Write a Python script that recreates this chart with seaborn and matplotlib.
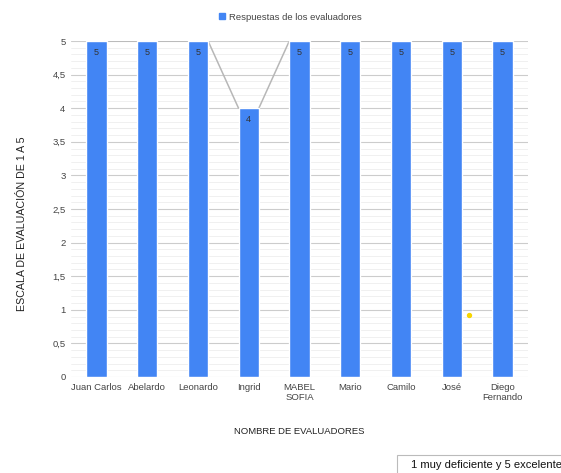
import matplotlib
import matplotlib.pyplot as plt
import pandas as pd
import seaborn as sns
from matplotlib.patches import Patch, Rectangle
from matplotlib.ticker import MultipleLocator, FuncFormatter

matplotlib.use("Agg")

evaluadores = ["Juan Carlos", "Abelardo", "Leonardo", "Ingrid", "MABEL\nSOFIA",
               "Mario", "Camilo", "José", "Diego\nFernando"]
respuestas = [5, 5, 5, 4, 5, 5, 5, 5, 5]
serie = "Respuestas de los evaluadores"

df = pd.DataFrame({"evaluador": evaluadores, "valor": respuestas, "serie": serie})

sns.set_theme(style="white")
plt.rcParams["font.family"] = ["Liberation Sans", "DejaVu Sans"]

BLUE = "#4285F4"
fig = plt.figure(figsize=(5.61, 4.73), dpi=100)
ax = fig.add_axes([0.1266, 0.203, 0.8144, 0.7103])

sns.barplot(data=df, x="evaluador", y="valor", hue="serie", palette=[BLUE],
            width=0.4, saturation=1, legend=False, ax=ax, zorder=3)

# connector line between bar tops
bars = sorted(ax.patches, key=lambda p: p.get_x())
for a, b in zip(bars[:-1], bars[1:]):
    ax.plot([a.get_x() + a.get_width(), b.get_x()],
            [a.get_height(), b.get_height()],
            color="#b7b7b7", lw=1.1, zorder=2)

for p in bars:
    ax.text(p.get_x() + p.get_width() / 2, p.get_height() - 0.1,
            f"{p.get_height():g}", ha="center", va="top",
            fontsize=6.5, color="#333333", zorder=4)

ax.set_xlim(-0.5, len(evaluadores) - 0.5)
ax.set_ylim(0, 5)
ax.yaxis.set_major_locator(MultipleLocator(0.5))
ax.yaxis.set_minor_locator(MultipleLocator(0.1))
ax.yaxis.set_major_formatter(FuncFormatter(lambda v, _: f"{v:g}".replace(".", ",")))
ax.grid(axis="y", which="major", color="#cccccc", lw=0.8, zorder=0)
ax.grid(axis="y", which="minor", color="#eeeeee", lw=0.6, zorder=0)
ax.set_axisbelow(True)
for s in ax.spines.values():
    s.set_visible(False)
ax.tick_params(axis="both", which="both", length=0, labelsize=6.8,
               labelcolor="#444444", pad=4)
ax.set_xlabel("NOMBRE DE EVALUADORES", fontsize=6.8, color="#222222", labelpad=18)
ax.set_ylabel("ESCALA DE EVALUACIÓN DE 1 A 5", fontsize=7.7, color="#222222")
ax.yaxis.set_label_coords(-0.097, 0.455)

# small yellow mark
ax.scatter([7.33], [0.92], s=8, color="#f7d500", zorder=5)

ax.legend(handles=[Patch(color=BLUE, label=serie)], loc="center",
          bbox_to_anchor=(0.48, 1.071), frameon=False, fontsize=6.8,
          handlelength=0.6, handleheight=0.6, handletextpad=0.4,
          labelcolor="#444444")

# note box at the bottom right
fig.add_artist(Rectangle((397 / 561, -0.05), 0.4, 0.05 + 18 / 473,
                         transform=fig.transFigure, fc="white",
                         ec="#bbbbbb", lw=0.8))
fig.text(411 / 561, 1 - 465 / 473, "1 muy deficiente y 5 excelente",
         fontsize=8, color="#111111", ha="left", va="center")

fig.savefig("out.png", dpi=100)
